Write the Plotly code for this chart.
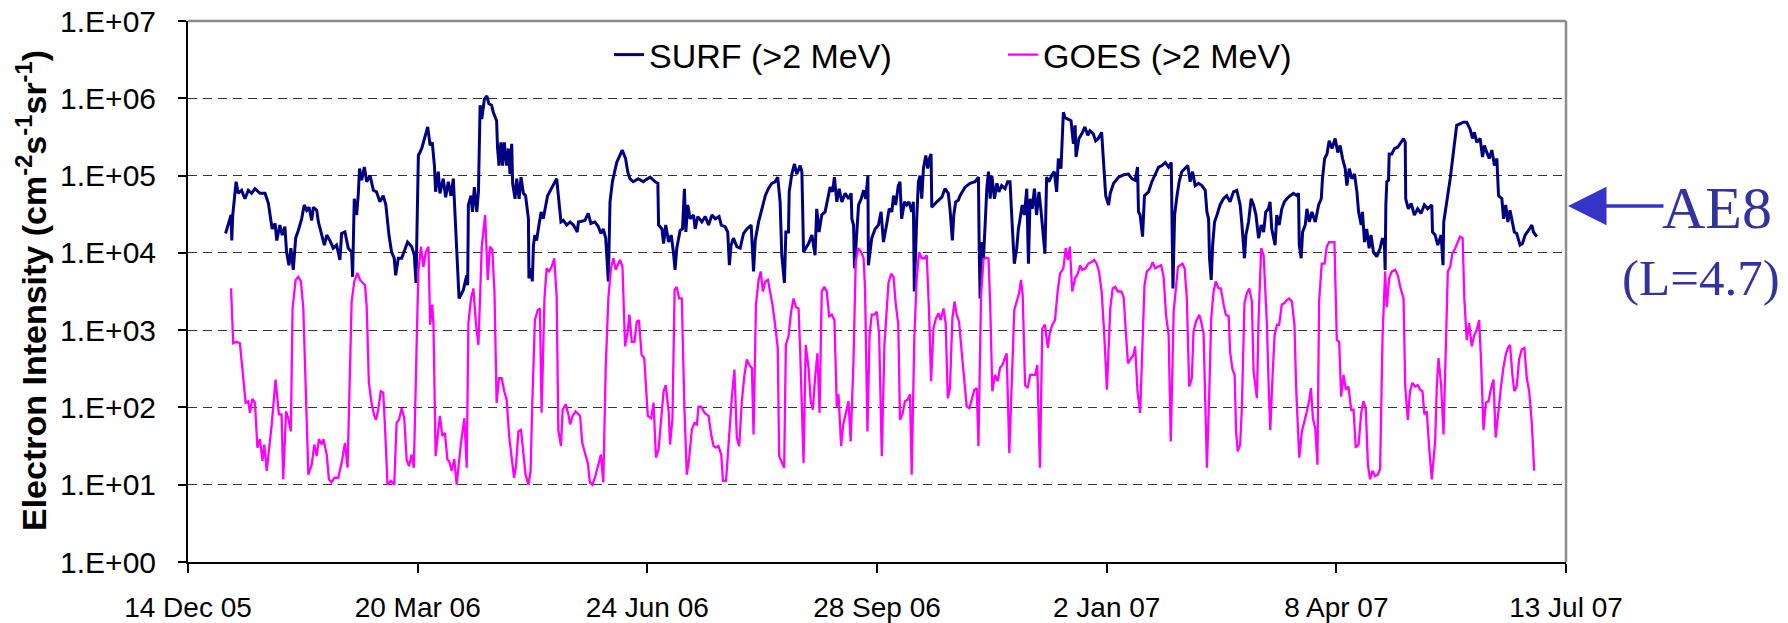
import plotly.graph_objects as go
import pandas as pd

START = "2005-12-14"

# SURF (>2 MeV): days after 14 Dec 2005, log10 intensity
surf_day = [15.7,16.6,18.0,18.3,18.7,20.1,21.0,22.4,23.8,25.2,26.6,28.0,30.1,32.2,33.6,34.3,35.2,36.4,37.1,38.4,
 39.4,40.5,41.2,42.2,43.0,44.0,45.0,46.1,47.5,48.6,49.6,50.6,51.7,52.4,53.8,54.5,55.9,57.0,58.0,59.3,
 60.7,62.1,63.5,64.2,65.6,67.0,68.4,68.8,69.5,70.5,71.2,71.7,72.6,73.7,74.7,76.1,77.5,78.8,80.2,81.6,
 82.7,84.0,85.1,86.2,86.8,87.9,89.3,90.7,91.8,93.5,94.6,95.3,95.8,
 96.3,97.7,99.1,100.2,101.2,102.1,103.0,103.5,104.6,105.3,106.7,107.7,108.8,109.9,110.9,111.6,112.3,113.3,115.1,116.5,
 116.9,117.2,118.3,118.9,119.7,120.7,121.4,122.1,122.8,123.9,124.9,125.8,126.9,127.6,129.0,129.4,130.0,130.8,131.5,132.2,
 133.2,133.9,134.6,135.3,135.7,136.7,137.4,138.4,139.2,140.2,141.1,142.3,142.5,143.7,143.9,144.4,145.0,145.7,146.7,147.6,
 148.5,149.5,150.3,154.1,155.9,156.9,158.3,159.7,161.1,162.7,163.2,165.9,167.3,168.4,170.1,171.5,172.6,173.6,174.6,175.7,
 176.4,177.4,178.2,179.2,180.2,181.5,182.9,183.8,184.7,186.1,188.2,190.3,
 191.1,193.2,195.3,196.4,196.7,198.1,198.8,199.7,200.9,202.0,202.9,203.6,204.3,205.7,206.7,207.5,208.1,208.9,209.9,211.3,
 212.0,213.1,214.8,216.2,217.6,219.0,220.4,222.0,222.9,224.5,225.6,226.3,227.0,228.0,229.4,230.8,232.2,233.6,235.4,236.4,
 237.1,238.5,239.9,241.3,242.6,244.0,245.4,246.5,247.5,248.2,249.3,249.9,251.0,251.3,252.4,253.5,254.5,255.9,256.6,257.3,
 259.4,260.8,262.1,262.8,263.8,264.9,266.3,267.4,268.4,269.4,270.2,271.2,272.2,273.3,274.7,276.1,277.2,277.5,278.2,278.6,
 279.6,280.3,281.4,282.4,283.3,284.2,284.4,285.8,
 287.2,288.6,289.7,290.7,292.1,293.1,294.2,294.9,295.8,296.9,297.6,298.3,299.5,300.4,301.4,302.5,303.2,303.6,304.6,305.3,
 306.0,306.7,307.4,308.4,309.2,309.9,310.6,310.9,313.0,315.1,316.4,317.8,318.5,319.0,319.5,320.1,320.9,322.0,322.7,324.8,
 326.9,329.0,330.4,330.7,331.1,331.8,332.5,333.2,333.9,334.6,335.3,336.0,337.1,338.1,339.0,340.1,341.5,342.6,343.6,344.6,
 345.4,346.4,347.1,347.8,348.7,349.6,350.6,351.3,352.0,352.9,353.8,354.7,355.7,356.6,357.5,358.2,358.9,359.9,361.0,362.1,
 363.1,363.8,364.9,365.9,366.6,368.0,369.1,370.1,370.8,371.2,372.4,373.6,374.9,376.1,377.0,378.4,379.4,380.5,381.9,382.6,
 383.6,
 384.8,385.5,386.9,389.0,391.1,393.1,394.5,395.9,396.9,397.3,398.0,399.0,399.8,401.5,402.9,404.3,405.7,407.1,408.5,409.9,
 411.0,411.7,412.4,413.4,414.3,415.4,416.8,417.9,418.9,419.9,421.0,422.4,423.8,425.2,425.9,426.6,427.0,427.7,428.3,429.1,
 430.1,431.4,432.8,434.2,435.6,437.0,438.4,439.8,440.5,441.6,442.2,443.3,444.4,445.4,446.4,447.5,448.6,449.6,450.5,451.6,
 452.3,453.0,454.4,455.1,456.1,457.2,458.3,459.3,460.7,462.1,463.5,464.2,464.5,465.3,465.9,467.0,467.7,468.7,469.8,471.2,
 472.6,473.7,474.2,475.1,476.1,477.0,478.2,
 479.5,480.6,481.6,482.6,483.7,484.4,485.4,486.5,487.6,488.6,489.3,490.4,490.9,491.8,492.7,493.7,494.5,495.5,496.9,498.3,
 499.3,500.1,500.4,500.7,501.1,501.8,502.1,503.2,504.3,505.7,507.1,508.1,508.8,509.0,510.1,511.3,512.6,514.0,515.4,516.8,
 518.2,519.9,520.2,521.3,522.4,523.8,524.6,524.9,527.6,530.3,531.7,533.1,534.5,535.9,536.9,537.7,538.7,540.1,541.1,541.9,
 542.9,543.9,545.0,546.1,547.1,547.8,549.2,549.9,550.8,551.7,552.6,553.6,554.4,555.4,556.8,557.8,558.9,560.3,561.7,562.4,
 563.8]
surf_exp = [4.25,4.34,4.49,4.16,4.49,4.92,4.77,4.81,4.70,4.81,4.77,4.83,4.77,4.77,4.64,4.49,4.31,4.38,4.16,4.36,
 4.23,4.34,4.01,3.84,4.06,3.78,4.19,4.29,4.44,4.62,4.55,4.59,4.42,4.59,4.55,4.40,4.25,4.10,4.23,4.16,
 4.06,4.10,3.91,4.25,4.27,4.06,4.01,3.69,4.70,4.49,4.77,5.09,4.94,5.11,4.92,5.00,4.81,4.79,4.66,4.74,
 4.62,4.23,4.01,3.93,3.71,3.93,3.93,4.06,4.14,4.08,3.97,3.61,4.70,
 5.26,5.35,5.52,5.63,5.39,5.43,5.13,4.79,5.05,4.77,4.96,4.72,4.92,4.74,4.96,4.53,3.93,3.41,3.52,3.71,
 3.58,4.62,4.74,4.53,4.85,4.53,4.79,5.91,5.73,5.99,6.03,5.93,5.91,5.82,5.71,5.35,5.13,5.43,5.13,5.43,
 5.13,5.35,5.02,5.41,4.90,4.70,4.96,4.70,4.98,4.77,4.74,4.44,3.67,3.80,3.63,4.10,4.23,4.16,4.36,4.53,
 4.44,4.62,4.74,4.96,4.40,4.42,4.36,4.40,4.36,4.27,4.40,4.42,4.51,4.38,4.40,4.34,4.25,4.31,4.19,3.63,
 4.66,4.92,5.05,5.17,5.24,5.33,5.22,5.05,4.96,4.92,4.96,4.92,
 4.94,4.98,4.92,4.90,4.36,4.31,4.12,4.36,4.14,4.23,4.01,3.78,4.06,4.29,4.31,4.83,4.27,4.62,4.44,4.49,
 4.31,4.47,4.40,4.47,4.36,4.49,4.44,4.47,4.36,4.34,4.27,3.84,4.10,4.19,4.08,4.06,4.25,4.31,4.36,3.76,
 4.16,4.40,4.57,4.74,4.83,4.90,4.92,4.98,4.66,3.97,3.61,4.27,4.27,4.79,5.02,5.15,5.02,5.13,5.05,4.01,
 4.12,4.23,3.97,4.57,4.27,4.49,4.53,4.70,4.85,4.79,4.98,4.66,4.83,4.66,4.77,4.70,4.77,4.44,4.36,3.80,
 4.27,4.62,4.70,4.81,4.70,5.00,3.84,4.19,
 4.31,4.36,4.53,4.14,4.38,4.57,4.53,4.74,4.62,4.87,4.92,4.44,4.66,4.62,4.66,4.53,4.66,3.50,4.44,4.92,
 5.00,4.70,5.09,5.26,5.09,5.22,5.28,4.59,4.66,4.72,4.83,4.77,4.57,4.31,4.16,4.49,4.66,4.68,4.74,4.85,
 4.90,4.92,4.98,4.10,3.41,4.14,3.93,4.36,4.83,5.05,4.70,5.00,4.70,4.90,4.79,4.87,4.83,4.92,4.92,4.31,
 3.86,4.06,4.31,4.44,4.62,4.49,4.83,3.86,4.70,4.57,4.83,4.49,4.79,4.53,4.27,3.99,4.98,4.92,5.00,5.05,
 4.79,5.22,5.09,5.82,5.75,5.73,5.71,5.41,5.65,5.24,5.48,5.54,5.63,5.52,5.58,5.54,5.45,5.48,5.56,5.22,
 4.74,
 4.62,4.77,4.90,4.98,5.01,5.02,4.96,4.94,5.11,4.53,4.49,4.21,4.74,4.79,4.92,5.02,5.11,5.13,5.17,5.11,
 5.17,3.54,4.49,4.74,4.92,5.05,5.09,5.13,4.92,5.05,4.87,4.90,4.87,4.81,4.53,4.44,3.93,3.65,4.10,4.40,
 4.49,4.62,4.70,4.74,4.66,4.79,4.81,4.62,4.38,3.93,4.23,4.40,4.70,4.62,4.49,4.19,4.36,4.27,4.53,4.57,
 4.66,4.31,4.10,4.49,4.36,4.57,4.66,4.70,4.74,4.77,4.74,4.77,4.10,3.93,4.27,4.36,4.57,4.40,4.53,4.40,
 4.62,4.70,4.96,5.22,5.28,5.45,5.35,
 5.48,5.30,5.39,5.22,5.09,4.87,5.09,4.96,5.02,4.79,4.53,4.36,4.53,4.14,4.31,4.06,4.23,4.01,3.95,4.06,
 4.19,4.10,3.78,4.62,4.92,4.94,5.28,5.28,5.35,5.37,5.43,5.48,5.43,4.70,4.57,4.64,4.49,4.57,4.51,4.62,
 4.57,4.62,4.27,4.23,4.10,4.23,3.84,4.40,4.96,5.65,5.67,5.69,5.69,5.60,5.48,5.56,5.43,5.48,5.24,5.39,
 5.30,5.22,5.33,5.13,5.22,4.74,4.70,4.44,4.62,4.40,4.55,4.40,4.27,4.25,4.10,4.12,4.23,4.29,4.36,4.27,
 4.21]

# GOES (>2 MeV): days after 14 Dec 2005, log10 intensity
goes_day = [18.0,18.9,20.3,21.7,23.1,24.1,25.2,25.9,26.9,28.0,29.0,30.1,31.1,31.9,32.9,35.0,36.6,38.0,39.1,39.8,
 41.0,41.9,43.0,43.7,45.0,46.1,47.2,48.2,50.3,51.7,52.8,53.8,54.7,55.9,56.6,58.0,58.9,60.0,61.2,62.8,
 64.2,65.6,66.7,68.4,69.5,70.8,71.9,74.0,74.7,75.6,76.8,77.9,78.6,79.5,80.6,81.6,82.3,83.4,84.8,86.2,
 87.2,88.2,89.3,90.4,91.4,92.4,93.5,94.4,95.6,
 96.3,97.4,98.4,99.4,100.5,101.2,102.1,102.6,103.5,104.7,105.3,106.3,107.4,108.4,109.2,110.2,111.3,112.3,114.1,115.5,
 116.5,117.2,118.3,119.3,120.4,121.4,122.8,124.2,125.3,126.2,127.2,128.1,129.0,130.0,131.1,132.2,133.2,134.3,135.3,136.3,
 137.1,138.1,139.2,140.2,141.1,142.3,143.2,143.9,145.0,146.2,147.1,147.8,149.0,149.9,150.9,152.0,153.1,154.1,154.8,155.9,
 156.6,157.9,159.0,159.7,160.8,162.0,163.9,164.8,165.9,167.1,168.0,169.0,170.1,171.2,172.6,173.6,174.6,175.7,176.8,177.8,
 178.8,179.6,180.6,181.6,182.0,182.7,183.8,184.5,185.5,186.6,187.6,188.5,189.6,190.7,
 192.2,193.6,194.6,195.6,196.7,197.8,198.8,199.7,200.9,201.5,202.5,203.4,204.3,205.3,206.4,207.5,208.5,209.5,210.6,211.7,
 212.7,213.4,214.5,215.9,217.6,218.7,219.7,220.6,221.7,222.9,223.6,224.9,226.2,227.3,228.4,229.4,230.4,231.5,232.6,233.6,
 234.6,235.7,236.4,237.4,238.5,239.4,240.3,241.3,242.4,243.3,244.3,245.4,246.5,247.1,248.2,249.2,249.9,251.0,252.1,253.1,
 254.1,255.2,255.9,257.3,258.2,259.4,260.3,261.2,262.1,263.1,264.0,264.9,266.0,267.0,268.0,269.1,270.2,271.2,271.9,273.0,
 273.9,275.1,276.1,277.0,278.2,279.1,280.2,281.4,282.4,283.0,284.0,284.9,285.8,286.9,
 287.9,288.9,290.0,291.1,292.1,292.8,293.9,294.9,295.8,296.9,297.6,298.6,299.7,300.8,301.8,302.5,303.6,304.6,305.6,306.7,
 307.8,308.8,309.8,310.6,311.6,312.6,313.7,314.6,315.8,316.7,317.6,318.5,319.5,320.4,321.3,322.3,323.4,324.5,325.5,326.6,
 327.6,328.7,329.7,330.4,331.5,332.5,333.6,334.6,335.3,336.2,337.3,338.5,339.4,340.4,341.5,342.2,343.3,344.3,345.4,346.4,
 347.4,348.2,348.9,349.9,351.0,352.0,352.9,354.1,355.0,355.4,356.1,357.1,358.2,359.4,360.3,361.3,362.4,363.5,364.5,365.9,
 366.9,367.7,368.6,369.6,370.8,371.9,372.9,373.8,375.2,376.3,377.7,378.8,379.8,380.8,381.9,383.0,
 384.1,385.5,386.5,387.6,388.7,390.1,391.1,392.0,392.9,394.3,395.2,395.9,396.9,398.0,399.0,399.8,400.8,402.2,403.2,404.3,
 405.4,406.8,407.8,408.8,409.9,410.8,412.0,412.9,413.8,414.7,415.7,416.6,417.5,418.5,419.6,420.3,421.3,422.7,423.5,424.5,
 425.2,425.9,426.9,427.7,428.7,429.6,430.8,431.7,432.9,433.8,435.0,435.6,436.6,437.5,438.1,438.8,439.8,440.5,441.6,442.6,
 443.6,444.7,445.4,446.1,446.8,447.5,448.6,449.6,450.3,451.0,451.7,452.4,453.3,454.2,455.2,456.1,457.2,458.3,459.3,460.3,
 461.4,462.5,463.2,463.9,464.5,465.6,466.7,467.7,468.7,469.4,470.2,471.2,472.1,472.8,473.9,475.1,476.0,477.0,478.1,479.2,
 480.2,481.2,482.0,483.0,484.0,485.1,486.2,487.2,488.1,489.3,490.4,491.3,492.3,493.2,494.1,495.1,496.2,497.3,498.3,499.3,
 500.4,501.1,502.1,503.2,504.6,505.7,506.7,508.1,508.8,509.9,510.8,511.8,512.9,514.0,515.0,516.0,516.8,517.8,518.8,519.9,
 521.3,522.0,522.7,523.8,524.8,525.8,526.6,527.6,528.5,529.7,530.8,531.7,532.8,533.5,534.5,535.5,536.6,537.7,538.7,539.7,
 540.5,541.5,542.5,543.6,544.7,545.7,546.6,547.8,548.9,549.8,550.8,551.7,552.6,553.6,554.4,555.4,556.4,557.5,558.6,559.6,
 560.6,561.7,562.7]
goes_exp = [3.54,2.83,2.85,2.83,2.38,2.06,2.08,1.93,2.11,2.06,1.48,1.59,1.31,1.52,1.18,1.78,2.36,1.91,1.91,1.07,
 1.95,1.86,1.69,3.28,3.65,3.69,3.63,3.28,1.13,1.26,1.52,1.37,1.59,1.52,1.59,1.39,1.07,1.03,1.09,1.09,
 1.28,1.54,1.22,3.37,3.63,3.74,3.65,3.58,3.30,2.32,2.04,1.89,1.84,1.97,2.21,2.19,1.78,1.00,1.05,1.00,
 1.80,1.84,1.99,1.86,1.32,1.24,1.39,1.22,2.85,
 3.76,4.08,3.82,4.01,4.08,3.07,3.33,3.07,1.37,1.73,1.89,1.63,1.67,1.33,1.30,1.18,1.33,1.00,1.54,1.86,
 1.22,3.09,3.41,3.54,3.07,2.81,4.08,4.49,3.65,4.08,4.04,3.50,2.06,2.38,2.38,2.21,2.10,1.61,1.31,1.09,
 1.24,1.69,1.71,1.43,1.13,1.00,1.18,2.04,3.13,3.26,3.28,1.93,3.41,3.80,3.76,3.82,3.93,3.43,1.71,1.50,
 1.97,2.04,1.91,1.78,1.89,1.95,1.89,1.54,1.41,1.28,1.03,1.00,1.09,1.22,1.39,1.03,2.51,3.41,3.80,3.93,
 3.78,3.84,3.91,3.82,3.41,2.79,2.98,3.20,2.85,2.85,3.11,3.13,2.68,2.64,
 1.89,1.86,2.06,1.35,1.46,1.91,2.21,2.29,1.95,1.52,1.86,3.52,3.56,3.41,3.41,1.99,1.13,1.35,1.71,1.80,
 1.78,2.01,2.01,1.93,1.89,1.65,1.50,1.48,1.50,1.39,1.05,1.05,1.69,2.12,2.49,1.61,1.50,2.08,2.42,2.62,
 2.55,2.51,1.65,3.33,3.65,3.76,3.50,3.63,3.65,3.50,3.33,3.07,2.77,1.37,1.28,1.22,2.81,2.92,3.24,3.41,
 3.30,3.28,2.72,1.28,2.81,2.51,2.08,1.97,2.38,2.70,1.93,3.50,3.56,3.50,3.18,3.20,3.13,2.01,2.17,1.50,
 1.78,1.95,2.08,1.56,2.64,3.88,4.06,4.01,3.93,3.54,1.69,2.94,3.20,3.20,
 3.24,2.94,1.37,2.81,3.28,3.61,3.73,3.69,3.35,3.07,1.84,1.91,2.08,2.10,2.17,1.13,2.90,3.67,4.01,3.93,
 3.93,3.97,3.20,2.34,3.02,3.15,3.22,3.13,3.28,3.09,2.12,2.25,3.15,3.37,3.20,3.11,2.72,2.38,2.01,1.99,
 2.12,2.23,2.25,1.50,3.45,3.91,3.94,3.93,3.35,2.21,2.42,2.34,2.51,2.55,2.64,2.70,1.41,2.38,3.26,3.37,
 3.48,3.65,3.45,2.29,2.25,2.42,2.42,2.42,2.55,2.04,1.22,3.02,3.07,2.77,2.98,3.07,3.13,3.50,3.73,3.80,
 4.06,3.91,4.08,3.50,3.67,3.73,3.84,3.78,3.80,3.86,3.88,3.91,3.86,3.76,3.50,2.94,
 2.23,3.28,3.54,3.56,3.50,3.50,3.43,2.98,2.57,2.64,2.68,2.79,2.21,1.93,2.85,3.58,3.76,3.80,3.88,3.80,
 3.82,3.84,3.69,3.20,2.94,1.56,3.24,3.58,3.82,3.84,3.86,3.80,3.41,2.27,2.38,2.98,3.11,3.20,3.11,2.96,
 2.08,1.22,2.21,3.15,3.50,3.63,3.54,3.54,3.33,3.20,3.18,2.72,2.49,2.42,1.69,1.43,1.52,1.99,3.35,3.48,
 3.54,3.37,2.47,2.29,2.12,3.15,4.06,3.97,3.50,3.07,2.29,1.71,2.38,2.94,3.07,3.07,3.33,3.35,3.39,3.41,
 3.37,3.07,2.25,1.69,1.35,1.69,1.82,1.95,2.10,2.25,1.86,1.73,1.26,3.37,3.86,3.86,4.08,4.14,4.14,4.14,
 2.87,2.85,2.14,2.42,2.23,2.27,1.97,1.97,1.48,1.52,1.93,2.08,1.99,1.26,1.07,1.18,1.11,1.13,1.20,2.90,
 3.76,3.30,3.67,3.76,3.78,3.71,3.56,3.41,2.27,1.84,2.21,2.32,2.27,2.29,2.23,2.21,1.91,1.95,1.48,1.07,
 1.56,2.27,2.64,2.29,1.65,2.98,3.76,3.82,3.99,4.06,4.14,4.21,4.19,3.41,2.87,3.09,2.79,2.94,3.00,3.13,
 2.60,1.71,2.06,2.08,2.25,2.36,1.61,1.99,2.29,2.51,2.68,2.77,2.81,2.42,2.21,2.27,2.62,2.75,2.77,2.38,
 2.21,1.80,1.18]

tick_dates = ["2005-12-14", "2006-03-20", "2006-06-24", "2006-09-28", "2007-01-02", "2007-04-08", "2007-07-13"]
tick_text = ["14 Dec 05", "20 Mar 06", "24 Jun 06", "28 Sep 06", "2 Jan 07", "8 Apr 07", "13 Jul 07"]
y_tick_vals = [1, 10, 100, 1e3, 1e4, 1e5, 1e6, 1e7]
y_tick_text = ["1.E+00", "1.E+01", "1.E+02", "1.E+03", "1.E+04", "1.E+05", "1.E+06", "1.E+07"]

start = pd.Timestamp(START)
surf_x = start + pd.to_timedelta(surf_day, unit="D")
goes_x = start + pd.to_timedelta(goes_day, unit="D")
surf_y = [10 ** v for v in surf_exp]
goes_y = [10 ** v for v in goes_exp]

FONT = "Liberation Sans, Arial, sans-serif"
SERIF = "Liberation Serif, Times New Roman, serif"

# The page body has an 8px default margin: the figure sits at (8, 8) in the window.
OFF = 8
W, H = 1788, 623
# plot area in window pixels
WL, WR, WT, WB = 188, 1566, 21, 562
L, R, T, B = WL - OFF, WR - OFF, WT - OFF, WB - OFF
pw, ph = R - L, B - T


def px(xw):
    return (xw - OFF - L) / pw


def py(yw):
    return (B - (yw - OFF)) / ph


fig = go.Figure()
fig.add_trace(go.Scatter(x=surf_x, y=surf_y, mode="lines", name="SURF (>2 MeV)",
                         line=dict(color="#000080", width=3)))
fig.add_trace(go.Scatter(x=goes_x, y=goes_y, mode="lines", name="GOES (>2 MeV)",
                         line=dict(color="#FF00FF", width=2.3)))

fig.update_layout(
    width=W, height=H,
    margin=dict(l=L, r=W - R, t=T, b=H - B, autoexpand=False),
    paper_bgcolor="white", plot_bgcolor="white",
    font=dict(family=FONT, color="black", size=30),
    showlegend=True,
    legend=dict(orientation="h", x=px(609), y=py(55), xanchor="left", yanchor="middle",
                font=dict(size=34, family=FONT), entrywidth=349, entrywidthmode="pixels",
                bgcolor="rgba(0,0,0,0)"),
    xaxis=dict(type="date", range=[tick_dates[0], tick_dates[-1]],
               tickmode="array", tickvals=tick_dates, ticktext=tick_text,
               ticks="outside", ticklen=9, tickcolor="black", tickwidth=1.5,
               showline=True, linecolor="black", linewidth=2, showgrid=False,
               tickfont=dict(size=28, family=FONT), ticklabelstandoff=10, automargin=False,
               ticklabeloverflow="allow"),
    yaxis=dict(type="log", range=[0, 7], tickmode="array", tickvals=y_tick_vals, ticktext=y_tick_text,
               ticks="outside", ticklen=8, tickcolor="black", tickwidth=1.5,
               showline=True, linecolor="black", linewidth=2,
               showgrid=True, gridcolor="#333333", gridwidth=1, griddash="9px,6px",
               tickfont=dict(size=30, family=FONT), ticklabelstandoff=16, automargin=False,
               ticklabeloverflow="allow"),
    shapes=[
        dict(type="line", xref="paper", yref="paper", x0=0, x1=1, y0=1, y1=1,
             line=dict(color="#8c8c8c", width=2.5)),
        dict(type="line", xref="paper", yref="paper", x0=1, x1=1, y0=0, y1=1,
             line=dict(color="#8c8c8c", width=2.5)),
    ],
    annotations=[
        dict(xref="paper", yref="paper", x=px(31), y=py(291), textangle=-90, showarrow=False,
             text="<b>Electron Intensity (cm<sup>-2</sup>s<sup>-1</sup>sr<sup>-1</sup>)</b>",
             font=dict(size=34, family=FONT, color="black"), xanchor="center", yanchor="middle"),
        dict(xref="paper", yref="paper", x=px(1568), y=py(206), ax=97, ay=0, text="",
             showarrow=True, arrowhead=2, arrowsize=2.2, arrowwidth=3.5, arrowcolor="#3434C8"),
        dict(xref="paper", yref="paper", x=px(1717), y=py(208), text="AE8", showarrow=False,
             font=dict(size=60, family=SERIF, color="#33339E"),
             xanchor="center", yanchor="middle"),
        dict(xref="paper", yref="paper", x=px(1701), y=py(278), text="(L=4.7)", showarrow=False,
             font=dict(size=51, family=SERIF, color="#33339E"),
             xanchor="center", yanchor="middle"),
    ],
)

fig.write_html("out.html")
